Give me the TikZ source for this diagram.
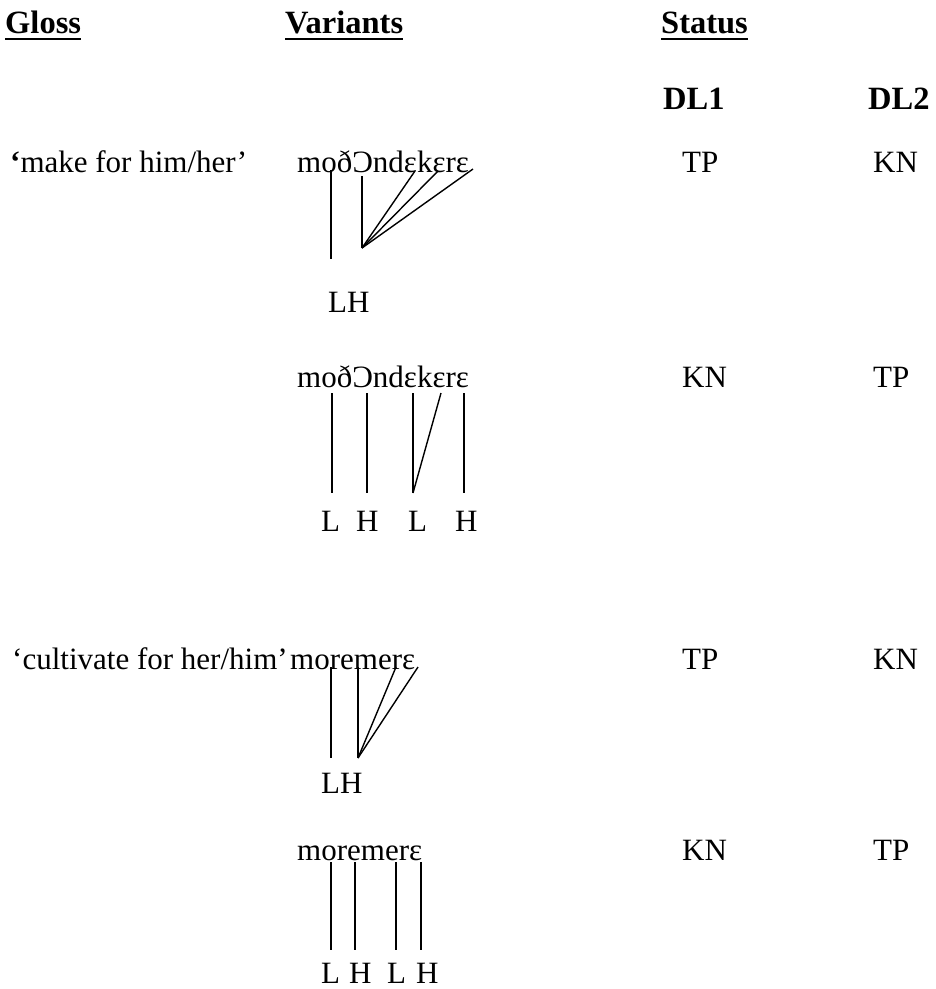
\documentclass[tikz,border=0pt]{standalone}
\usepackage{fontspec}
\setmainfont{Liberation Serif}
\tikzset{
  txt/.style={inner sep=0pt, anchor=base west, font=\fontsize{31}{37}\selectfont},
  head/.style={txt, font=\fontsize{32.5}{38}\selectfont\bfseries},
  uline/.style={line width=2.8pt},
  assoc/.style={line width=1.4pt}
}

\begin{document}
\begin{tikzpicture}[x=1pt,y=-1pt]
  \useasboundingbox (0,0) rectangle (936,989);

  % column heads
  \node[head] (gloss) at (5,33) {Gloss};
  \node[head] (var) at (285,33) {Variants};
  \node[head] (status) at (661,33) {Status};
  \draw[uline] ([yshift=-6pt]gloss.base west) -- ([yshift=-6pt]gloss.base east);
  \draw[uline] ([yshift=-6pt]var.base west) -- ([yshift=-6pt]var.base east);
  \draw[uline] ([yshift=-6pt]status.base west) -- ([yshift=-6pt]status.base east);
  \node[head] (dl1) at (663,109) {DL1};
  \node[head] (dl2) at (868,109) {DL2};

  % make for him/her
  \node[txt] (g1) at (10,172) {{\bfseries ‘}make for him/her’};
  \node[txt] (w1) at (297,172) {moðƆndɛkɛrɛ};
  \node[txt] (s1a) at (682,172) {TP};
  \node[txt] (s1b) at (873,172) {KN};
  \node[txt] (t1) at (328,312) {LH};
  \coordinate (w1m) at (331,170);  \coordinate (t1l) at (331,259);
  \coordinate (w1d) at (362,176);  \coordinate (t1h) at (362,248);
  \coordinate (w1k) at (415,171);
  \coordinate (w1r) at (438,171);
  \coordinate (w1e) at (473,169);
  \draw[assoc] (w1m) -- (t1l);
  \draw[assoc] (w1d) -- (t1h);
  \draw[assoc] (t1h) -- (w1k);
  \draw[assoc] (t1h) -- (w1r);
  \draw[assoc] (t1h) -- (w1e);

  \node[txt] (w2) at (297,387) {moðƆndɛkɛrɛ};
  \node[txt] (s2a) at (682,387) {KN};
  \node[txt] (s2b) at (873,387) {TP};
  \node[txt] (t2a) at (321,531) {L};
  \node[txt] (t2b) at (356,531) {H};
  \node[txt] (t2c) at (408,531) {L};
  \node[txt] (t2d) at (455,531) {H};
  \coordinate (w2m) at (332,393);  \coordinate (t2al) at (332,493);
  \coordinate (w2d) at (367,393);  \coordinate (t2bl) at (367,493);
  \coordinate (w2k) at (413,393);  \coordinate (t2cl) at (413,493);
  \coordinate (w2r) at (441,393);
  \coordinate (w2e) at (464,393);  \coordinate (t2dl) at (464,493);
  \draw[assoc] (w2m) -- (t2al);
  \draw[assoc] (w2d) -- (t2bl);
  \draw[assoc] (w2k) -- (t2cl);
  \draw[assoc] (w2r) -- (t2cl);
  \draw[assoc] (w2e) -- (t2dl);

  % cultivate for her/him
  \node[txt] (g3) at (12,669) {‘cultivate for her/him’};
  \node[txt] (w3) at (290,669) {moremerɛ};
  \node[txt] (s3a) at (682,669) {TP};
  \node[txt] (s3b) at (873,669) {KN};
  \node[txt] (t3) at (321,793) {LH};
  \coordinate (w3o) at (331,667);  \coordinate (t3l) at (331,758);
  \coordinate (w3e) at (358,667);  \coordinate (t3h) at (358,758);
  \coordinate (w3m) at (396,667);
  \coordinate (w3r) at (418,667);
  \draw[assoc] (w3o) -- (t3l);
  \draw[assoc] (w3e) -- (t3h);
  \draw[assoc] (t3h) -- (w3m);
  \draw[assoc] (t3h) -- (w3r);

  \node[txt] (w4) at (297,860) {moremerɛ};
  \node[txt] (s4a) at (682,860) {KN};
  \node[txt] (s4b) at (873,860) {TP};
  \node[txt] (t4a) at (321,983) {L};
  \node[txt] (t4b) at (349,983) {H};
  \node[txt] (t4c) at (387,983) {L};
  \node[txt] (t4d) at (416,983) {H};
  \coordinate (w4o) at (331,862);  \coordinate (t4al) at (331,950);
  \coordinate (w4e) at (355,862);  \coordinate (t4bl) at (355,950);
  \coordinate (w4m) at (396,862);  \coordinate (t4cl) at (396,950);
  \coordinate (w4r) at (421,862);  \coordinate (t4dl) at (421,950);
  \draw[assoc] (w4o) -- (t4al);
  \draw[assoc] (w4e) -- (t4bl);
  \draw[assoc] (w4m) -- (t4cl);
  \draw[assoc] (w4r) -- (t4dl);
\end{tikzpicture}
\end{document}
